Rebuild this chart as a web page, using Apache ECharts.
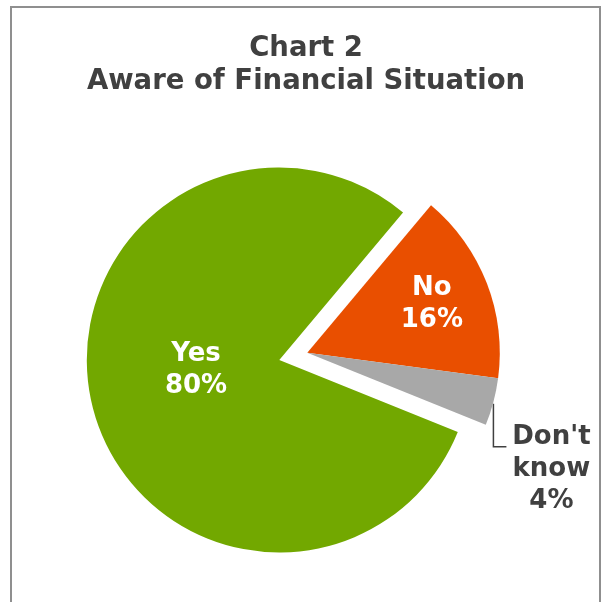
<!DOCTYPE html>
<html>
<head>
<meta charset="utf-8">
<script src="https://cdn.jsdelivr.net/npm/echarts@6/dist/echarts.min.js"></script>
<style>html,body{margin:0;padding:0;background:#fff}#c{width:602px;height:602px}</style>
</head>
<body>
<div id="c"></div>
<script>
var titleLines = ['Chart 2', 'Aware of Financial Situation'];
var categories = ['Yes', 'No', "Don't know"];
var values = [80, 16, 4];
var colors = ['#72A800', '#E94F00', '#A8A8A8'];
var explodedIndex = [1, 2];

var FONT = 'DejaVu Sans';
var chart = echarts.init(document.getElementById('c'), null, {renderer: 'canvas'});

function makeData(visibleFn) {
  return categories.map(function (name, i) {
    var vis = visibleFn(i);
    return {
      name: name,
      value: values[i],
      itemStyle: {color: vis ? colors[i] : 'rgba(0,0,0,0)'},
      label: {show: vis},
      labelLine: {show: vis && i === 2}
    };
  });
}

var labelOffsets = {0: [13, -14], 1: [32, -13]};

function layoutFn(params) {
  var idx = params.dataIndex;
  if (labelOffsets[idx]) {
    return {dx: labelOffsets[idx][0], dy: labelOffsets[idx][1]};
  }
  if (idx === 2 && params.labelLinePoints) {
    var p0 = params.labelLinePoints[0];
    return {
      x: p0[0] + 58,
      y: p0[1] + 67,
      align: 'center',
      verticalAlign: 'middle',
      labelLinePoints: [[p0[0], p0[1] + 2], [p0[0], p0[1] + 45], [p0[0] + 13, p0[1] + 45]]
    };
  }
  return {};
}

var commonLabel = {
  formatter: function (p) { return p.name.replace(' ', '\n') + '\n' + p.percent + '%'; },
  fontFamily: FONT,
  fontWeight: 'bold',
  fontSize: 26,
  lineHeight: 32
};

function seriesFor(center, visibleFn) {
  return {
    type: 'pie',
    center: center,
    radius: 192.5,
    startAngle: 338,
    clockwise: true,
    avoidLabelOverlap: false,
    animation: false,
    silent: true,
    emphasis: {disabled: true},
    itemStyle: {borderWidth: 0},
    label: Object.assign({}, commonLabel, {
      position: 'inside',
      color: '#ffffff'
    }),
    labelLine: {show: false, lineStyle: {color: '#404040', width: 1.5}},
    labelLayout: layoutFn,
    data: makeData(visibleFn)
  };
}

var mainSeries = seriesFor([279.3, 360], function (i) { return explodedIndex.indexOf(i) < 0; });
var explodedSeries = seriesFor([307.3, 352.7], function (i) { return explodedIndex.indexOf(i) >= 0; });
explodedSeries.data[2].label = Object.assign({}, commonLabel, {show: true, position: 'outside', color: '#404040'});
explodedSeries.data[2].labelLine = {show: true, length: 10, length2: 10, lineStyle: {color: '#404040', width: 1.5}};

chart.setOption({
  animation: false,
  backgroundColor: '#ffffff',
  title: {
    text: titleLines.join('\n'),
    left: 301,
    top: 27,
    textAlign: 'center',
    textStyle: {
      fontFamily: FONT,
      fontWeight: 'bold',
      fontSize: 27.5,
      lineHeight: 33,
      color: '#404040'
    }
  },
  graphic: [{
    type: 'rect',
    shape: {x: 11, y: 7, width: 589, height: 620},
    style: {fill: 'none', stroke: '#8f8f8f', lineWidth: 2},
    silent: true,
    z: 100
  }],
  series: [mainSeries, explodedSeries]
});
</script>
</body>
</html>
